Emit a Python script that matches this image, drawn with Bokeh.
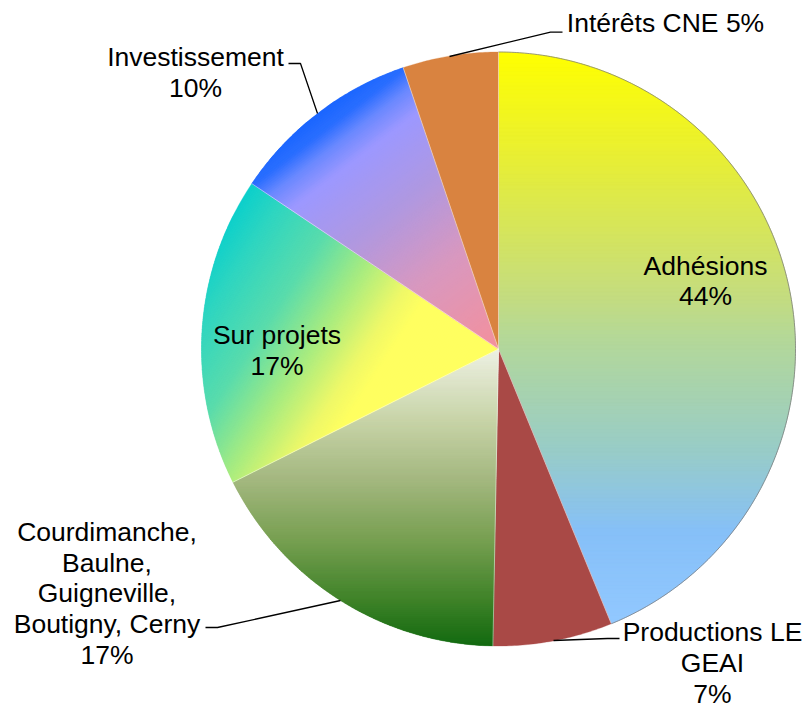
import numpy as np
from bokeh.plotting import figure
from bokeh.models import ColumnDataSource
from bokeh.embed import file_html
from bokeh.resources import INLINE
from bokeh.core.properties import value

# ---------------- data ----------------
categories = ["Adhésions", "Productions LE GEAI",
              "Courdimanche, Baulne, Guigneville, Boutigny, Cerny",
              "Sur projets", "Investissement", "Intérêts CNE"]
values = [43.8, 6.5, 17.3, 16.8, 10.4, 5.2]
label_names = ["Adhésions", "Productions LE\nGEAI",
               "Courdimanche,\nBaulne,\nGuigneville,\nBoutigny, Cerny",
               "Sur projets", "Investissement", "Intérêts CNE"]
label_seps = ["\n", "\n", "\n", "\n", "\n", " "]

# ---------------- layout ----------------
W, H = 805, 709


def P(px, py):
    """picture pixel -> data coordinates"""
    return (float(px), H - float(py))


CX, CY = P(498, 348.5)
R = 297.0

# fill styles: ("solid", color) or ("grad", (dx, dy) screen direction, stops)
styles = [
    ("grad", (0, 1), [(0, "#FFFF00"), (0.17, "#EAF030"), (0.43, "#C4DC80"), (0.5, "#B4D898"),
                      (0.7, "#98CCC8"), (0.84, "#86C0F8"), (1, "#92C8FF")]),
    ("solid", "#A94946"),
    ("grad", (0, 1), [(0, "#EEF1E4"), (0.24, "#C8D4A8"), (0.44, "#A4B880"), (0.64, "#78A052"),
                      (0.85, "#3E8228"), (1, "#126A10")]),
    ("grad", (0.84, 0.545), [(0, "#0CD0CC"), (0.12, "#30D6C0"), (0.3, "#5ADCAC"), (0.47, "#A8EC80"),
                             (0.62, "#EEF868"), (0.7, "#FFFF60"), (1, "#FFFF60")]),
    ("grad", None, [(0, "#F4909C"), (0.34, "#D898C0"), (0.58, "#B098E0"), (0.8, "#9C98FF"),
                    (0.88, "#6A88FF"), (0.94, "#2A6EFF"), (1, "#1A66FF")]),
    ("solid", "#D98340"),
]

label_pos = [(705, 280.5), (712, 662.5), (106.5, 593), (276.5, 350), (195, 72), (665, 22.5)]

leaders = [
    [(553, 640), (607, 638), (619, 638)],          # Productions
    [(340, 600), (217, 627), (205, 627)],          # Courdimanche
    [(317, 113), (300, 63), (288, 63)],            # Investissement
    [(449, 56), (550, 31.7), (562, 31.7)],         # Intérêts
]


def hex2rgb(h):
    h = h.lstrip("#")
    return np.array([int(h[i:i + 2], 16) for i in (0, 2, 4)], dtype=float)


def interp(stops, t):
    t = min(max(t, 0.0), 1.0)
    for (t0, c0), (t1, c1) in zip(stops[:-1], stops[1:]):
        if t <= t1:
            f = 0 if t1 == t0 else (t - t0) / (t1 - t0)
            c = hex2rgb(c0) * (1 - f) + hex2rgb(c1) * f
            return "#%02x%02x%02x" % tuple(int(round(v)) for v in c)
    return stops[-1][1]


def clip(poly, ux, uy, c, sign):
    out = []
    n = len(poly)
    for i in range(n):
        a = poly[i]
        b = poly[(i + 1) % n]
        da = sign * (ux * a[0] + uy * a[1] - c)
        db = sign * (ux * b[0] + uy * b[1] - c)
        if da >= 0:
            out.append(a)
        if (da >= 0) != (db >= 0):
            f = da / (da - db)
            out.append((a[0] + f * (b[0] - a[0]), a[1] + f * (b[1] - a[1])))
    return out


total = float(sum(values))
cum = np.concatenate([[0.0], np.cumsum(values) / total])

xs, ys, cols = [], [], []
sep_x, sep_y = [], []
arc0_x, arc0_y = None, None

for i in range(len(values)):
    a0 = np.pi / 2 - 2 * np.pi * cum[i]
    a1 = np.pi / 2 - 2 * np.pi * cum[i + 1]
    nseg = max(8, int(abs(a1 - a0) / (2 * np.pi) * 720))
    ang = np.linspace(a0, a1, nseg)
    ax = CX + R * np.cos(ang)
    ay = CY + R * np.sin(ang)
    if i == 0:
        arc0_x, arc0_y = list(ax), list(ay)
    poly = [(CX, CY)] + list(zip(ax, ay))
    sep_x.append([CX, CX + R * np.cos(a0)])
    sep_y.append([CY, CY + R * np.sin(a0)])
    kind = styles[i][0]
    if kind == "solid":
        xs.append([p[0] for p in poly])
        ys.append([p[1] for p in poly])
        cols.append(styles[i][1])
        continue
    d = styles[i][1]
    stops = styles[i][2]
    if d is None:
        mid = (a0 + a1) / 2
        ux, uy = np.cos(mid), np.sin(mid)
    else:
        ux, uy = d[0], -d[1]
        nrm = np.hypot(ux, uy)
        ux, uy = ux / nrm, uy / nrm
    proj = [ux * p[0] + uy * p[1] for p in poly]
    tmin, tmax = min(proj), max(proj)
    nstrip = 150
    dt = (tmax - tmin) / nstrip
    for k in range(nstrip):
        lo = tmin + k * dt
        hi = lo + dt * 1.8 if k < nstrip - 1 else tmax + 1
        if k == 0:
            lo = tmin - 1
        q = clip(poly, ux, uy, lo, 1)
        if len(q) < 3:
            continue
        q = clip(q, ux, uy, hi, -1)
        if len(q) < 3:
            continue
        xs.append([p[0] for p in q])
        ys.append([p[1] for p in q])
        cols.append(interp(stops, (k + 0.5) / nstrip))

p = figure(width=W, height=H, x_range=(0, W), y_range=(0, H),
           output_backend="svg", toolbar_location=None, min_border=0,
           outline_line_color=None, background_fill_color="white",
           border_fill_color="white")
p.axis.visible = False
p.grid.visible = False

p.patches(xs="xs", ys="ys", fill_color="c", line_color="c", line_width=0.3,
          source=ColumnDataSource(dict(xs=xs, ys=ys, c=cols)))

# thin slice separators
p.multi_line(xs=sep_x, ys=sep_y, line_color="white", line_width=0.8, line_alpha=0.6)
# outline of first slice arc
p.line(arc0_x, arc0_y, line_color="#7F7F7F", line_width=0.8)

# leader lines
lx = [[P(*pt)[0] for pt in ld] for ld in leaders]
ly = [[P(*pt)[1] for pt in ld] for ld in leaders]
p.multi_line(xs=lx, ys=ly, line_color="black", line_width=1.3)

# labels
texts = [label_names[i] + label_seps[i] + "%d%%" % int(values[i] / total * 100 + 0.5)
         for i in range(len(values))]
tx = [P(*lp)[0] for lp in label_pos]
ty = [P(*lp)[1] for lp in label_pos]
p.text(x=tx, y=ty, text=texts, text_font=value("Liberation Sans"),
       text_font_size="26.5px", text_align="center", text_baseline="middle",
       text_line_height=1.03, text_color="black")

open("out.html", "w").write(file_html(p, INLINE))
